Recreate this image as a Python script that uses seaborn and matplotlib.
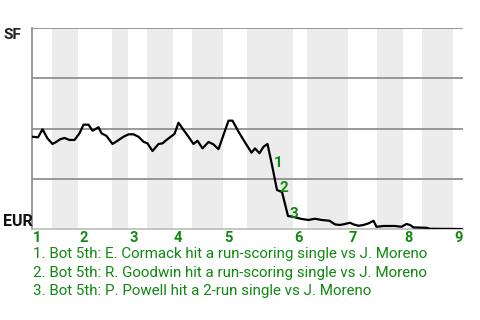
import matplotlib
matplotlib.use("Agg")
import matplotlib.pyplot as plt
import seaborn as sns
import pandas as pd

# Game progress (plate-appearance scale) and SF win probability (%)
progress = [0.1, 1.2, 2.1, 3.1, 4.1, 4.9, 5.6, 6.5, 7.5, 8.5, 9.5, 10.3, 11.3, 12.1,
            13.3, 13.9, 14.9, 16.1, 17.1, 18.3, 19.3, 20.3, 21.3, 22.3, 23.1, 24.1,
            25.3, 26.1, 26.9, 28.5, 29.3, 30.3, 31.3, 32.3, 33.1, 34.1, 35.3, 36.3,
            37.3, 39.3, 40.1, 41.3, 42.6, 43.9, 44.6, 45.5, 46.3, 47.1, 48.0, 49.0,
            50.0, 51.2, 52.6, 53.9, 55.3, 56.6, 57.9, 59.5, 60.6, 61.6, 62.6, 63.6,
            64.3, 65.3, 66.3, 67.3, 68.3, 68.9, 70.3, 72.6, 73.9, 74.9, 75.6, 76.3,
            78.9, 79.6, 86.0]
win_prob = [45.9, 45.6, 49.6, 45.1, 42.3, 43.4, 44.6, 45.3, 44.3, 44.3, 47.6, 51.9,
            51.9, 48.9, 50.6, 47.6, 46.3, 42.3, 43.9, 45.9, 47.1, 47.1, 45.9, 43.4,
            42.6, 38.8, 42.3, 42.6, 44.3, 47.3, 52.9, 49.3, 45.9, 42.3, 43.9, 40.1,
            43.3, 42.1, 39.7, 53.9, 53.9, 48.4, 43.1, 38.0, 40.1, 37.7, 40.9, 42.3,
            31.8, 19.4, 18.4, 6.5, 5.8, 5.0, 4.5, 5.1, 4.5, 4.1, 2.3, 2.0, 2.5, 3.1,
            2.3, 1.6, 2.0, 2.8, 4.1, 1.1, 1.5, 1.5, 1.1, 2.5, 2.0, 0.8, 0.6, 0.1, 0.0]

# Inning boundaries (start of each inning, start of each bottom half)
inning_labels = ["1", "2", "3", "4", "5", "6", "7", "8", "9"]
inning_start = [0.0, 9.2, 19.2, 28.2, 38.2, 52.2, 63.2, 74.2, 84.2]
bottom_start = [4.0, 16.0, 23.0, 32.0, 43.0, 55.0, 69.0, 78.0]
game_end = 86.2

# Key events
event_idx = [48, 49, 51]
event_labels = ["1", "2", "3"]
event_texts = [
    "1. Bot 5th: E. Cormack hit a run-scoring single vs J. Moreno",
    "2. Bot 5th: R. Goodwin hit a run-scoring single vs J. Moreno",
    "3. Bot 5th: P. Powell hit a 2-run single vs J. Moreno",
]
team_top = "SF"
team_bottom = "EUR"

sns.set_theme(style="white")
plt.rcParams["font.family"] = ["Roboto", "DejaVu Sans"]

GREEN = "#118811"
fig = plt.figure(figsize=(4.8, 3.2), dpi=100)
ax = fig.add_axes([32 / 480, 91 / 320, 431 / 480, 201 / 320])

# shaded bottom halves
ends = inning_start[1:] + [game_end]
for b, e in zip(bottom_start, ends):
    ax.axvspan(b, e, color="#ececec", lw=0, zorder=0)

for yv in [25, 50, 75, 100]:
    ax.axhline(yv, color="#888888", lw=1.2, zorder=1)

df = pd.DataFrame({"progress": progress, "win_prob": win_prob})
sns.lineplot(data=df, x="progress", y="win_prob", ax=ax, color="black", lw=1.6,
             zorder=3, estimator=None, sort=False)

for idx, lab in zip(event_idx, event_labels):
    ax.text(progress[idx] + 0.4, win_prob[idx] + 1.0, lab, color=GREEN,
            fontsize=11, fontweight="bold", ha="left", va="center", zorder=4)

ax.set_xlim(0, game_end)
ax.set_ylim(0, 100)
ax.set_xticks([])
ax.set_yticks([])
ax.set_xlabel("")
ax.set_ylabel("")
for side in ["top", "right"]:
    ax.spines[side].set_visible(False)
ax.spines["left"].set_color("#888888")
ax.spines["left"].set_linewidth(1.2)
ax.spines["bottom"].set_color("#bbbbbb")
ax.spines["bottom"].set_linewidth(1.2)

trans = ax.get_xaxis_transform()
for s, lab in zip(inning_start, inning_labels):
    ax.text(s + 0.2, -0.012, lab, transform=trans, color=GREEN, fontsize=10.5,
            fontweight="bold", ha="left", va="top")

fig.text(4 / 480, 1 - 35 / 320, team_top, fontsize=11, fontweight="bold",
         color="#222222", ha="left", va="center")
fig.text(3 / 480, 1 - 221 / 320, team_bottom, fontsize=11.5, fontweight="bold",
         color="#111111", ha="left", va="center")

for i, t in enumerate(event_texts):
    fig.text(33 / 480, 1 - (254 + 18.5 * i) / 320, t, fontsize=10.9, color=GREEN,
             ha="left", va="center")

fig.savefig("out.png", dpi=100)
